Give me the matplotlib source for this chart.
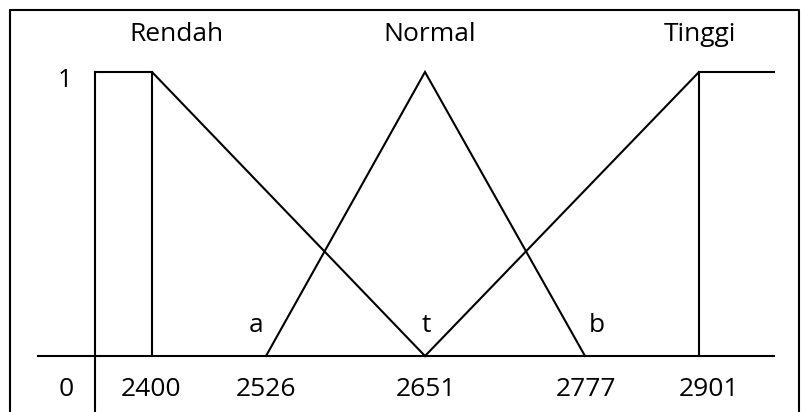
import matplotlib
matplotlib.use('Agg')
import matplotlib.pyplot as plt
import numpy as np

# data
breaks = [2400, 2526, 2651, 2777, 2901]
tick_labels = ['2400', '2526', '2651', '2777', '2901']
point_names = ['a', 't', 'b']
sets = ['Rendah', 'Normal', 'Tinggi']

# layout (pixel positions of the schematic)
tick_px = [152, 266, 425, 585, 699]
origin_px, end_px, axis_left_px = 95, 774, 38
y_base, y_top = 356, 72          # pixel rows for mu=0 and mu=1
H, W = 412, 801

plt.rcParams['font.family'] = ['Open Sans', 'DejaVu Sans']

def xp(v):
    return np.interp(v, breaks, tick_px)

unit = y_base - y_top

def ypx(p):
    return (y_base - p) / unit

fig = plt.figure(figsize=(8.01, 4.12), dpi=100)
ax = fig.add_axes([0, 0, 1, 1])
ax.set_xlim(0, W)
ax.set_ylim(ypx(H), ypx(0))
ax.axis('off')

kw = dict(color='black', lw=1.5, solid_joinstyle='miter')

# axes
ax.plot([axis_left_px, end_px], [0, 0], **kw)
ax.plot([origin_px, origin_px], [ypx(H), 1], **kw)

# Rendah
ax.plot([origin_px, xp(2400), xp(2651)], [1, 1, 0], **kw)
ax.plot([xp(2400), xp(2400)], [1, 0], **kw)
# Normal
ax.plot(xp([2526, 2651, 2777]), [0, 1, 0], **kw)
# Tinggi
ax.plot([xp(2651), xp(2901), end_px], [0, 1, 1], **kw)
ax.plot([xp(2901), xp(2901)], [1, 0], **kw)

# frame
ax.plot([10, 10, 799, 799], [ypx(H + 5), ypx(10), ypx(10), ypx(H + 5)],
        color='black', lw=1.5, clip_on=False)

# set names
for name, x in zip(sets, [176, 430, 700]):
    ax.text(x, ypx(34), name, ha='center', va='center', fontsize=19)

ax.text(65, ypx(80), '1', ha='center', va='center', fontsize=18)
ax.text(66, ypx(389), '0', ha='center', va='center', fontsize=19)

for lab, x in zip(tick_labels, [151, 266, 426, 586, 709]):
    ax.text(x, ypx(389), lab, ha='center', va='center', fontsize=19)

for name, x in zip(point_names, [256, 426, 597]):
    ax.text(x, ypx(325), name, ha='center', va='center', fontsize=19)

fig.savefig('out.png', dpi=100)
